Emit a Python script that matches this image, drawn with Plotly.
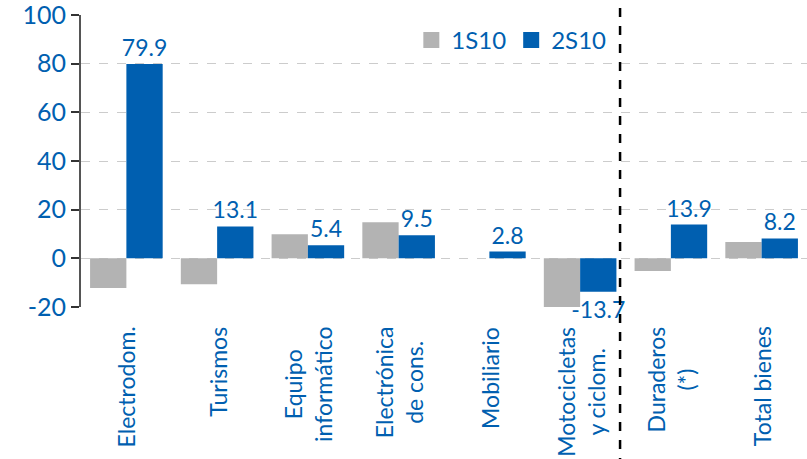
import plotly.graph_objects as go

categories = ["Electrodom.", "Turismos", "Equipo<br>informático", "Electrónica<br>de cons.",
              "Mobiliario", "Motocicletas<br>y ciclom.", "Duraderos<br>(*)", "Total bienes"]
s1_name = "1S10"
s2_name = "2S10"
s1_values = [-12.2, -10.6, 9.9, 14.8, 0.0, -20.3, -5.2, 6.7]
s2_values = [79.9, 13.1, 5.4, 9.5, 2.8, -13.7, 13.9, 8.2]
y_ticks = [-20, 0, 20, 40, 60, 80, 100]

BLUE = "#005FB0"
GREY = "#B3B3B3"
FONT = "Lato"

fig = go.Figure()
fig.add_trace(go.Bar(x=categories, y=s1_values, name=s1_name, marker_color=GREY,
                     marker_line_width=0, showlegend=False))
fig.add_trace(go.Bar(x=categories, y=s2_values, name=s2_name, marker_color=BLUE,
                     marker_line_width=0, showlegend=False,
                     text=[f"{v:.1f}" for v in s2_values], textposition="outside",
                     textfont=dict(family=FONT, size=23, color=BLUE),
                     constraintext="none", cliponaxis=False))
# legend entries with larger square symbols
for nm, col in [(s1_name, GREY), (s2_name, BLUE)]:
    fig.add_trace(go.Scatter(x=[None], y=[None], mode="markers", name=nm,
                             marker=dict(symbol="square", size=16, color=col)))

for c in categories:
    fig.add_annotation(x=c, xref="x", y=-0.06, yref="paper", text=c, textangle=-90,
                       showarrow=False, xanchor="center", yanchor="top", align="center",
                       font=dict(family=FONT, size=23, color=BLUE))

fig.add_shape(type="line", xref="x", yref="paper", x0=5.44, x1=5.44, y0=1.024, y1=-0.55,
              line=dict(color="black", width=2.5, dash="dash"))

fig.update_layout(
    width=807, height=459,
    margin=dict(l=81, r=0, t=15, b=152),
    plot_bgcolor="white", paper_bgcolor="white",
    barmode="group", bargap=0.2, bargroupgap=0,
    showlegend=True,
    legend=dict(orientation="h", x=0.455, y=0.99, xanchor="left", yanchor="top",
                font=dict(family=FONT, size=24, color=BLUE), bgcolor="rgba(0,0,0,0)",
                itemwidth=30, traceorder="normal"),
    xaxis=dict(showticklabels=False, showgrid=False, showline=False, ticks="",
               range=[-0.5, 7.5]),
    yaxis=dict(range=[-20, 100], tickvals=y_ticks, ticktext=[str(t) for t in y_ticks],
               showgrid=True, gridcolor="#CCCCCC", ticklabeloverflow="allow",
               griddash="dash", gridwidth=1, zeroline=False, showline=True,
               linecolor="#555555", linewidth=2, ticks="outside", ticklen=8,
               tickcolor="#333333", tickwidth=1.5,
               tickfont=dict(family=FONT, size=25, color=BLUE)),
)

fig.write_html("out.html")
